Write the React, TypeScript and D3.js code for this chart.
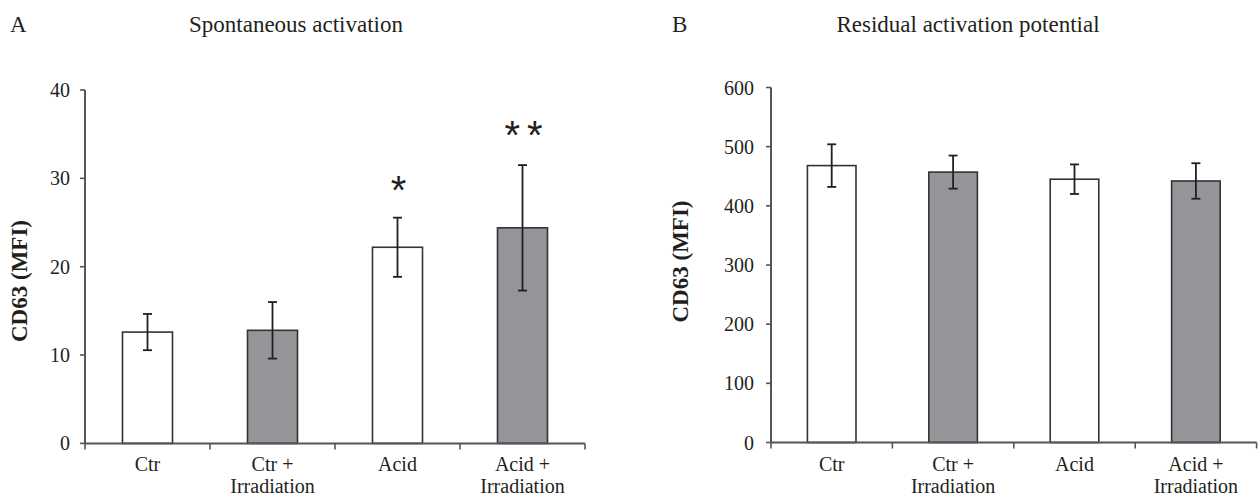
import React from "react";
import * as d3 from "d3";

const categories = ["Ctr", "Ctr + Irradiation", "Acid", "Acid + Irradiation"];
const categoryLines = [["Ctr"], ["Ctr +", "Irradiation"], ["Acid"], ["Acid +", "Irradiation"]];
const barFills = ["#ffffff", "#939598", "#ffffff", "#939598"];

const spontaneousMeans = [12.6, 12.8, 22.2, 24.4];
const spontaneousErrors = [2.05, 3.2, 3.35, 7.1];
const spontaneousTicks = [0, 10, 20, 30, 40];
const spontaneousStars = ["", "", "*", "* *"];

const residualMeans = [468, 457, 445, 442];
const residualErrors = [36, 28, 25, 30];
const residualTicks = [0, 100, 200, 300, 400, 500, 600];
const residualStars = ["", "", "", ""];

const SERIF = "'Liberation Serif', 'Times New Roman', serif";
const SANS = "'Liberation Sans', Arial, sans-serif";
const TEXT = "#231f20";
const AXIS = "#555555";
const EDGE = "#333333";

type PanelProps = {
  letter: string;
  letterX: number;
  title: string;
  titleX: number;
  x0: number;
  x1: number;
  y0: number;
  y1: number;
  yMax: number;
  ticks: number[];
  means: number[];
  errors: number[];
  stars: string[];
  labelX: number;
  labelY: number;
  tickGap: number;
};

function Panel(p: PanelProps) {
  const x = d3
    .scaleBand<string>()
    .domain(categories)
    .range([p.x0, p.x1])
    .paddingInner(0.6)
    .paddingOuter(0.3);
  const y = d3.scaleLinear().domain([0, p.yMax]).range([p.y0, p.y1]);
  const step = x.step();
  const bw = x.bandwidth();
  const boundaries = d3.range(categories.length + 1).map((i) => p.x0 + i * step);
  const cap = 4.5;

  return (
    <g>
      <text x={p.letterX} y={32} fontFamily={SERIF} fontSize={23} fill={TEXT}>
        {p.letter}
      </text>
      <text x={p.titleX} y={32} fontFamily={SERIF} fontSize={23} fill={TEXT} textAnchor="middle">
        {p.title}
      </text>
      <text
        transform={`translate(${p.labelX},${p.labelY}) rotate(-90)`}
        fontFamily={SERIF}
        fontSize={23}
        fontWeight="bold"
        fill={TEXT}
        textAnchor="middle"
      >
        CD63 (MFI)
      </text>

      {categories.map((c, i) => (
        <rect
          key={c}
          x={x(c)!}
          y={y(p.means[i])}
          width={bw}
          height={y(0) - y(p.means[i])}
          fill={barFills[i]}
          stroke={EDGE}
          strokeWidth={1.6}
        />
      ))}

      {categories.map((c, i) => {
        const cx = x(c)! + bw / 2;
        const top = y(p.means[i] + p.errors[i]);
        const bot = y(p.means[i] - p.errors[i]);
        return (
          <g key={c} stroke={TEXT} strokeWidth={1.8}>
            <line x1={cx} x2={cx} y1={top} y2={bot} />
            <line x1={cx - cap} x2={cx + cap} y1={top} y2={top} />
            <line x1={cx - cap} x2={cx + cap} y1={bot} y2={bot} />
          </g>
        );
      })}

      {categories.map((c, i) =>
        p.stars[i] ? (
          <text
            key={c}
            x={x(c)! + bw / 2}
            y={y(p.means[i] + p.errors[i]) - (i === 3 ? 16 : 14)}
            fontFamily={SANS}
            fontSize={40}
            fill={TEXT}
            textAnchor="middle"
            letterSpacing={-2}
          >
            {p.stars[i]}
          </text>
        ) : null
      )}

      <line x1={p.x0} x2={p.x0} y1={y(p.yMax)} y2={y(0)} stroke={AXIS} strokeWidth={2} />
      {p.ticks.map((t) => (
        <g key={t}>
          <line x1={p.x0 - 5} x2={p.x0} y1={y(t)} y2={y(t)} stroke={AXIS} strokeWidth={1.6} />
          <text
            x={p.x0 - p.tickGap}
            y={y(t)}
            dy="0.35em"
            fontFamily={SERIF}
            fontSize={20}
            fill={TEXT}
            textAnchor="end"
          >
            {t}
          </text>
        </g>
      ))}

      <line x1={p.x0} x2={p.x1} y1={y(0)} y2={y(0)} stroke={AXIS} strokeWidth={2} />
      {boundaries.map((b, i) => (
        <line key={i} x1={b} x2={b} y1={y(0)} y2={y(0) + 6} stroke={AXIS} strokeWidth={1.6} />
      ))}
      {categories.map((c, i) =>
        categoryLines[i].map((ln, j) => (
          <text
            key={c + j}
            x={x(c)! + bw / 2}
            y={471 + j * 22}
            fontFamily={SERIF}
            fontSize={20}
            fill={TEXT}
            textAnchor="middle"
          >
            {ln}
          </text>
        ))
      )}
    </g>
  );
}

export default function App() {
  return (
    <svg
      width={1258}
      height={497}
      viewBox="0 0 1258 497"
      style={{ position: "absolute", left: 0, top: 0, background: "#ffffff" }}
    >
      <rect width={1258} height={497} fill="#ffffff" />
      <Panel
        letter="A"
        letterX={10}
        title="Spontaneous activation"
        titleX={296}
        x0={85}
        x1={585}
        y0={443.4}
        y1={90}
        yMax={40}
        ticks={spontaneousTicks}
        means={spontaneousMeans}
        errors={spontaneousErrors}
        stars={spontaneousStars}
        labelX={27}
        labelY={281}
        tickGap={15}
      />
      <Panel
        letter="B"
        letterX={672}
        title="Residual activation potential"
        titleX={968}
        x0={771}
        x1={1256.6}
        y0={442.5}
        y1={87.5}
        yMax={600}
        ticks={residualTicks}
        means={residualMeans}
        errors={residualErrors}
        stars={residualStars}
        labelX={688}
        labelY={261.5}
        tickGap={17}
      />
    </svg>
  );
}
